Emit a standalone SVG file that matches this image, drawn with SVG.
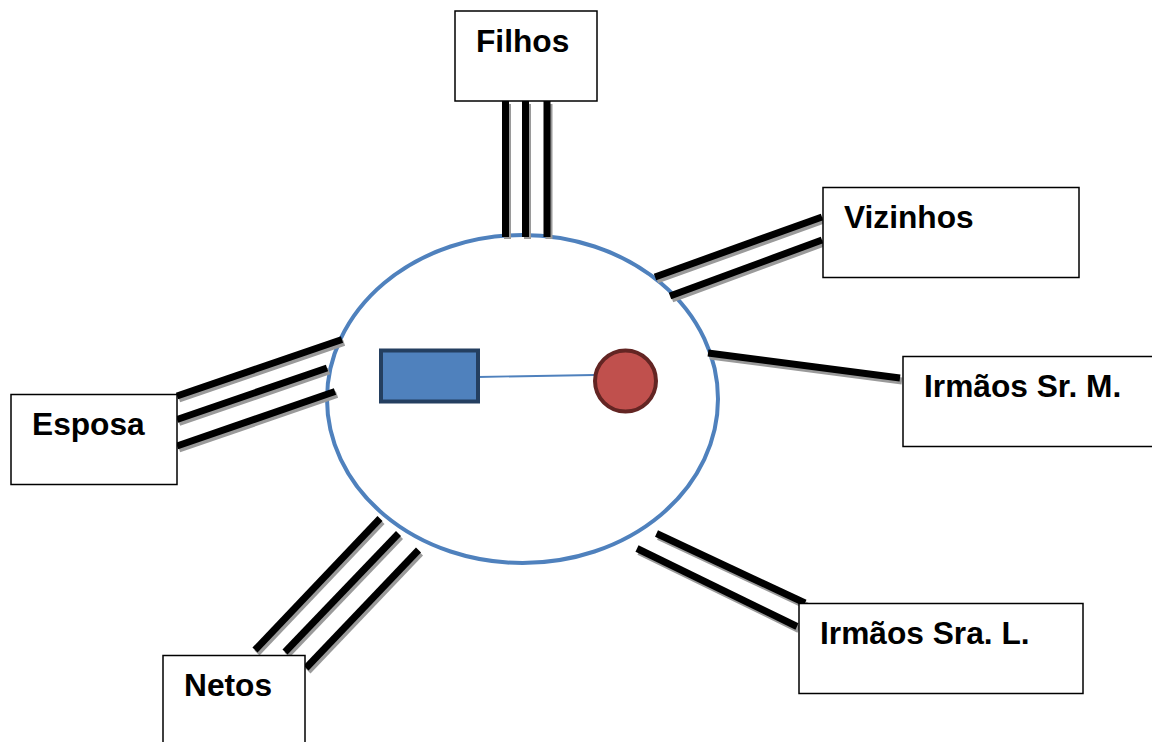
<svg xmlns="http://www.w3.org/2000/svg" width="1152" height="742" viewBox="0 0 1152 742">
<style>
.box{fill:#fff;stroke:#000;stroke-width:1.5}
.lbl{font-family:"Liberation Sans",Arial,sans-serif;font-weight:bold;font-size:31.7px;fill:#000}
.ln{stroke:#000;stroke-width:7;fill:none}
.sh{stroke:#9a9a9a;stroke-width:7;fill:none}
</style>
<rect width="1152" height="742" fill="#fff"/>
<g id="center">
<ellipse cx="522.5" cy="399" rx="195.5" ry="164" fill="#fff" stroke="#4F81BD" stroke-width="4"/>
<line x1="478" y1="377" x2="594" y2="375" stroke="#4F81BD" stroke-width="1.8"/>
<rect x="381" y="350.5" width="97" height="51" fill="#4F81BD" stroke="#243F60" stroke-width="4"/>
<circle cx="625.5" cy="381" r="30.5" fill="#C0504D" stroke="#632523" stroke-width="4"/>
</g>
<g id="connectors">
<g transform="translate(2,3)" class="sh">
<line x1="505.5" y1="101" x2="505.5" y2="236"/>
<line x1="525.5" y1="101" x2="525.5" y2="236"/>
<line x1="547" y1="101" x2="547" y2="236"/>
<line x1="655" y1="277" x2="822" y2="217"/>
<line x1="670" y1="296" x2="822" y2="240"/>
<line x1="708" y1="353" x2="900" y2="378"/>
<line x1="177" y1="396" x2="342" y2="339.5"/>
<line x1="177" y1="419.5" x2="327" y2="368"/>
<line x1="177" y1="446" x2="335" y2="391.5"/>
<line x1="255" y1="650" x2="380" y2="518.5"/>
<line x1="285" y1="652" x2="398.5" y2="533.5"/>
<line x1="306" y1="668" x2="418.5" y2="550"/>
<line x1="656.5" y1="533.5" x2="805" y2="603"/>
<line x1="637" y1="548.5" x2="797" y2="626.5"/>
</g>
<g class="ln">
<line x1="505.5" y1="101" x2="505.5" y2="237"/>
<line x1="525.5" y1="101" x2="525.5" y2="237"/>
<line x1="547" y1="101" x2="547" y2="237"/>
<line x1="655" y1="277" x2="822" y2="217"/>
<line x1="670" y1="296" x2="822" y2="240"/>
<line x1="708" y1="353" x2="900" y2="378"/>
<line x1="177" y1="396" x2="342" y2="339.5"/>
<line x1="177" y1="419.5" x2="327" y2="368"/>
<line x1="177" y1="446" x2="335" y2="391.5"/>
<line x1="255" y1="650" x2="380" y2="518.5"/>
<line x1="285" y1="652" x2="398.5" y2="533.5"/>
<line x1="306" y1="668" x2="418.5" y2="550"/>
<line x1="656.5" y1="533.5" x2="805" y2="603"/>
<line x1="637" y1="548.5" x2="797" y2="626.5"/>
</g>
</g>
<g id="filhos">
<rect class="box" x="455" y="11" width="142" height="90"/>
<text class="lbl" x="476" y="52">Filhos</text>
</g>
<g id="vizinhos">
<rect class="box" x="823" y="187.5" width="256" height="90"/>
<text class="lbl" x="844" y="228">Vizinhos</text>
</g>
<g id="irmaos-sr-m">
<rect class="box" x="903" y="356.5" width="260" height="90"/>
<text class="lbl" x="924" y="397">Irmãos Sr. M.</text>
</g>
<g id="esposa">
<rect class="box" x="11" y="394.5" width="166" height="90"/>
<text class="lbl" x="32" y="435">Esposa</text>
</g>
<g id="netos">
<rect class="box" x="163" y="655.5" width="142" height="100"/>
<text class="lbl" x="184" y="696">Netos</text>
</g>
<g id="irmaos-sra-l">
<rect class="box" x="799" y="603.5" width="284" height="90"/>
<text class="lbl" x="820" y="644">Irmãos Sra. L.</text>
</g>
</svg>
